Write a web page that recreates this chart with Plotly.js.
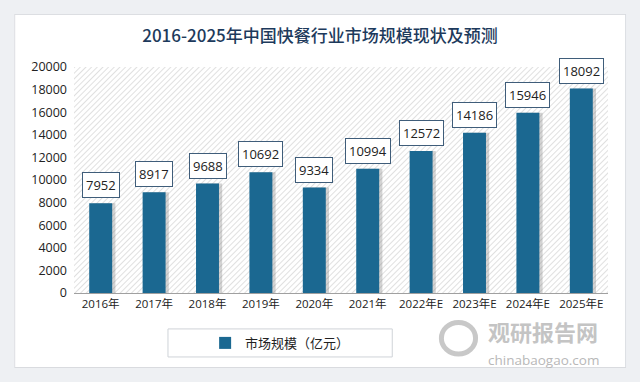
<!DOCTYPE html>
<html><head><meta charset="utf-8">
<script src="https://cdn.plot.ly/plotly-3.0.1.min.js"></script>
<style>html,body{margin:0;padding:0;background:#eef0f3}</style>
</head><body><div id="chart" style="width:640px;height:382px"></div>
<script>
const categories = ['2016年','2017年','2018年','2019年','2020年','2021年','2022年E','2023年E','2024年E','2025年E'];
const marketSize = [7952, 8917, 9688, 10692, 9334, 10994, 12572, 14186, 15946, 18092];
const seriesName = '市场规模（亿元）';
const titleText = '2016-2025年中国快餐行业市场规模现状及预测';

const card = 'data:image/svg+xml;utf8,' + encodeURIComponent(
 '<svg xmlns="http://www.w3.org/2000/svg" width="612" height="352">' +
 '<rect x="0.5" y="0.5" width="611" height="351" fill="#ffffff" stroke="#d9dbdf" stroke-width="1"/></svg>');
const hatch = 'data:image/svg+xml;utf8,' + encodeURIComponent(
 '<svg xmlns="http://www.w3.org/2000/svg" width="534" height="226">' +
 '<defs><pattern id="p" width="4" height="4" patternUnits="userSpaceOnUse" patternTransform="rotate(45)">' +
 '<rect width="4" height="4" fill="#ffffff"/><line x1="0" y1="0" x2="0" y2="4" stroke="#d6d6d6" stroke-width="1.5"/></pattern></defs>' +
 '<rect width="534" height="226" fill="url(#p)"/></svg>');

const barW = 0.43;
const traces = [
 {type:'bar', x:categories, y:marketSize, width:barW, offset:-barW/2+0.06,
  marker:{color:'rgba(110,110,110,0.3)'}, showlegend:false, hoverinfo:'skip'},
 {type:'bar', x:categories, y:marketSize, name:seriesName, width:barW, offset:-barW/2,
  marker:{color:'#1b6891'}}
];

const annotations = categories.map((c,i)=>({
 x:c, y:marketSize[i], xref:'x', yref:'y', text:String(marketSize[i]),
 showarrow:false, yanchor:'bottom', yshift:5,
 font:{family:'Open Sans, sans-serif', size:13, color:'#222'},
 bordercolor:'#3f5d7a', borderwidth:1, borderpad:3, bgcolor:'#ffffff'
}));
annotations.push({xref:'paper', yref:'paper', x:0.772, y:-0.168, xanchor:'left', yanchor:'middle', showarrow:false,
 text:'<b>观研报告网</b>', font:{family:'Noto Sans CJK SC', size:22, color:'#c4c4c4'}});
annotations.push({xref:'paper', yref:'paper', x:0.772, y:-0.295, xanchor:'left', yanchor:'middle', showarrow:false,
 text:'chinabaogao.com', font:{family:'Open Sans, sans-serif', size:13.5, color:'#b8b8b8'}});

const layout = {
 width:640, height:382,
 margin:{l:74, r:32, t:67, b:89},
 paper_bgcolor:'#eef0f3', plot_bgcolor:'rgba(0,0,0,0)',
 title:{text:titleText, x:0.5, xref:'container', xanchor:'center', y:0.905, yanchor:'middle',
  font:{family:'Noto Sans CJK SC', size:17, color:'#1d3a5c', weight:500}},
 barmode:'overlay',
 xaxis:{type:'category', showline:true, linecolor:'#a0a0a0', linewidth:1, ticks:'',
  tickfont:{family:'Open Sans, Noto Sans CJK SC, sans-serif', size:11.5, color:'#222'}, fixedrange:true},
 yaxis:{range:[0,20000], dtick:2000, tickformat:'d', showgrid:false, zeroline:false, showline:false, ticks:'',
  tickfont:{family:'Open Sans, sans-serif', size:12.5, color:'#222'}, ticklabelstandoff:6},
 legend:{orientation:'h', x:0.386, xanchor:'center', y:-0.221, yanchor:'middle',
  bgcolor:'rgba(0,0,0,0)', font:{family:'Noto Sans CJK SC', size:13, color:'#222'}},
 images:[
  {source:card, xref:'paper', yref:'paper', x:-0.112, y:1.235, sizex:1.146, sizey:1.567,
   sizing:'stretch', layer:'below', xanchor:'left', yanchor:'top'},
  {source:hatch, xref:'paper', yref:'paper', x:0, y:1, sizex:1, sizey:1,
   sizing:'stretch', layer:'below', xanchor:'left', yanchor:'top'}],
 shapes:[
  {type:'rect', xref:'paper', yref:'paper', x0:0.176, x1:0.596, y0:-0.283, y1:-0.159,
   line:{color:'#cfd3d8', width:1}, fillcolor:'rgba(0,0,0,0)'},
  {type:'circle', xref:'paper', yref:'paper', x0:0.688, x1:0.752, y0:-0.27, y1:-0.13,
   line:{color:'#c8c8c8', width:5}}
 ],
 annotations:annotations
};
Plotly.newPlot('chart', traces, layout, {displayModeBar:false, staticPlot:true});
</script></body></html>
